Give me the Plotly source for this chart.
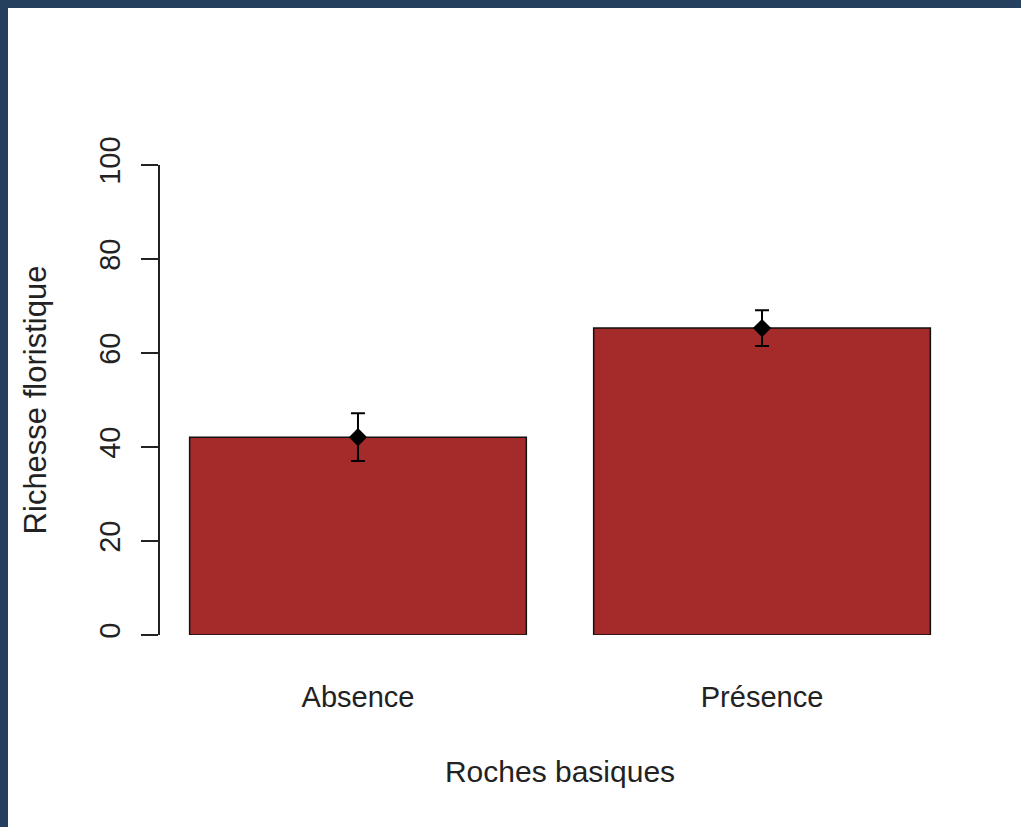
import plotly.graph_objects as go

categories = ["Absence", "Présence"]
means = [42.1, 65.3]
errors = [5.1, 3.8]
x_pos = [0.7, 1.9]
y_ticks = [0, 20, 40, 60, 80, 100]

FONT = "Liberation Sans, Arial, sans-serif"
TXT = "#222222"

fig = go.Figure()
fig.add_trace(go.Bar(
    x=x_pos, y=means, width=1.0,
    marker=dict(color="#A52A2A", line=dict(color="#111111", width=1.5)),
    showlegend=False, hoverinfo="skip",
))
fig.add_trace(go.Scatter(
    x=x_pos, y=means, mode="markers",
    marker=dict(symbol="diamond", size=14, color="black"),
    error_y=dict(type="data", array=errors, visible=True, color="black",
                 thickness=2, width=7),
    showlegend=False, hoverinfo="skip",
))

# plot area geometry
L, R, T, B = 160, 61, 165, 192
W, H = 1021 - L - R, 827 - T - B

def px_x(p):
    return (p - L) / W

def px_y(p):
    return (827 - B - p) / H

border = "#253f5f"
shapes = [
    dict(type="rect", xref="paper", yref="paper", x0=px_x(0), x1=px_x(8),
         y0=px_y(827), y1=px_y(0), fillcolor=border, line=dict(width=0), layer="above"),
    dict(type="rect", xref="paper", yref="paper", x0=px_x(0), x1=px_x(1021),
         y0=px_y(8), y1=px_y(0), fillcolor=border, line=dict(width=0), layer="above"),
]

fig.update_layout(
    width=1021, height=827,
    margin=dict(l=L, r=R, t=T, b=B, pad=0),
    paper_bgcolor="white", plot_bgcolor="white",
    font=dict(family=FONT, size=29, color=TXT),
    shapes=shapes,
    xaxis=dict(
        range=[0.112, 2.488], tickmode="array", tickvals=x_pos, ticktext=categories,
        showline=False, showgrid=False, zeroline=False, ticks="",
        ticklabelstandoff=42,
        title=dict(text="Roches basiques", standoff=48, font=dict(size=30, color=TXT)),
        tickfont=dict(size=29, color=TXT),
    ),
    yaxis=dict(
        range=[0, 100], tickmode="array", tickvals=y_ticks,
        showline=True, linecolor="#222222", linewidth=1.5,
        showgrid=False, zeroline=False,
        ticks="outside", ticklen=17, tickwidth=1.5, tickcolor="#222222",
        tickangle=-90, ticklabelstandoff=10,
        tickfont=dict(size=29, color=TXT),
        title=dict(text="Richesse floristique", standoff=38, font=dict(size=31, color=TXT)),
    ),
)

fig.write_html("out.html")
